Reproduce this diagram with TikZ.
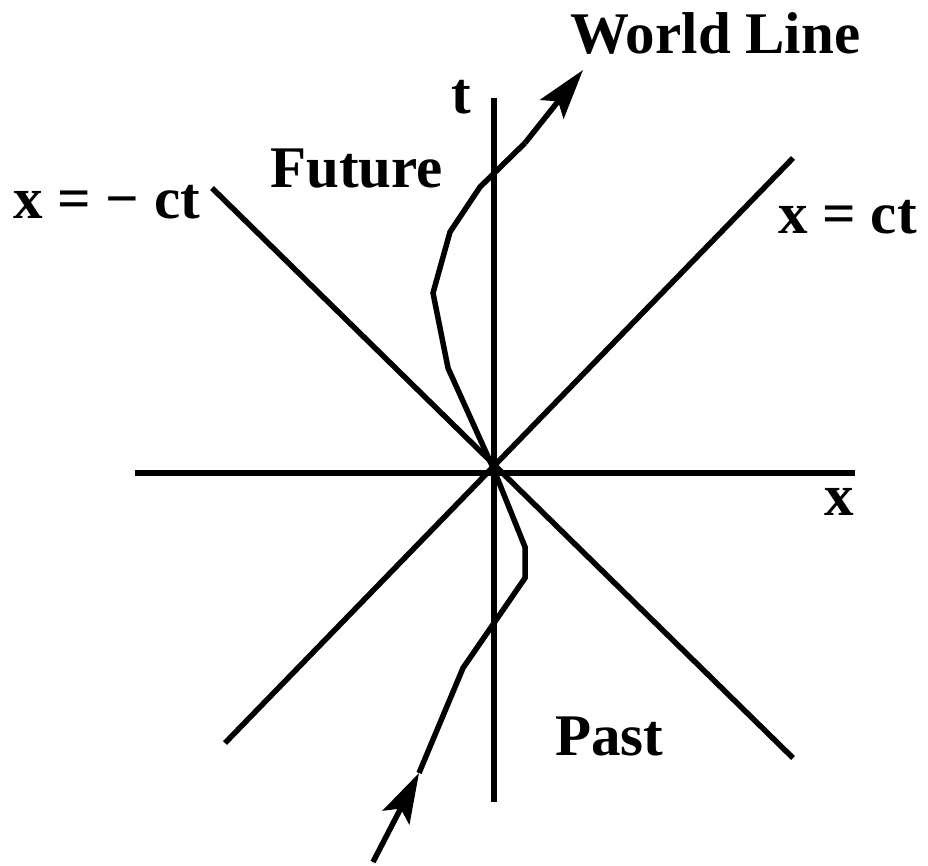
\documentclass[tikz,border=0pt]{standalone}
\usepackage{fontspec}
\setmainfont{Liberation Serif}
\usetikzlibrary{arrows.meta}
\begin{document}
\begin{tikzpicture}[x=1pt,y=-1pt,
  axis/.style={line width=5.5pt},
  wl/.style={line width=5.5pt, line join=miter},
  tipped/.style={-{Stealth[length=50pt,width=30pt,inset=10pt]}},
  lbl/.style={anchor=base west, inner sep=0pt, font=\bfseries\fontsize{59}{62}\selectfont}]
\useasboundingbox (0,0) rectangle (928,865);
% axes and light-cone lines
\coordinate (O) at (494,470);
\coordinate (xl) at (135,473);
\coordinate (xr) at (855,473);
\coordinate (tt) at (494,98);
\coordinate (tb) at (494,802);
\coordinate (pu) at (793,158);
\coordinate (pd) at (225,743);
\coordinate (mu) at (212,188);
\coordinate (md) at (793,758);
\draw[axis] (xl) -- (xr);
\draw[axis] (tt) -- (tb);
\draw[axis] (pd) -- (pu);
\draw[axis] (mu) -- (md);
% world line
\coordinate (w0) at (373,862);
\coordinate (w1) at (419,773);
\coordinate (w2) at (463,668);
\coordinate (w3) at (525,578);
\coordinate (w4) at (525,547);
\coordinate (w5) at (448,368);
\coordinate (w6) at (433,293);
\coordinate (w7) at (450,232);
\coordinate (w8) at (480,187);
\coordinate (w9) at (525,143);
\coordinate (w10) at (583,70);
\draw[wl,tipped] (w0) -- (w1);
\draw[wl] (w1) -- (w2) -- (w3) -- (w4) -- (O) -- (w5) -- (w6) -- (w7) -- (w8) -- (w9);
\draw[wl,tipped] (w9) -- (w10);
% labels
\node[lbl] (lwl) at (570,53) {World Line};
\node[lbl] (lt) at (451,113) {t};
\node[lbl] (lfut) at (270,187) {Future};
\node[lbl] (lmct) at (13,218) {x = − ct};
\node[lbl] (lpct) at (778,233) {x = ct};
\node[lbl] (lx) at (824,515) {x};
\node[lbl] (lpast) at (555,755) {Past};
\end{tikzpicture}
\end{document}
